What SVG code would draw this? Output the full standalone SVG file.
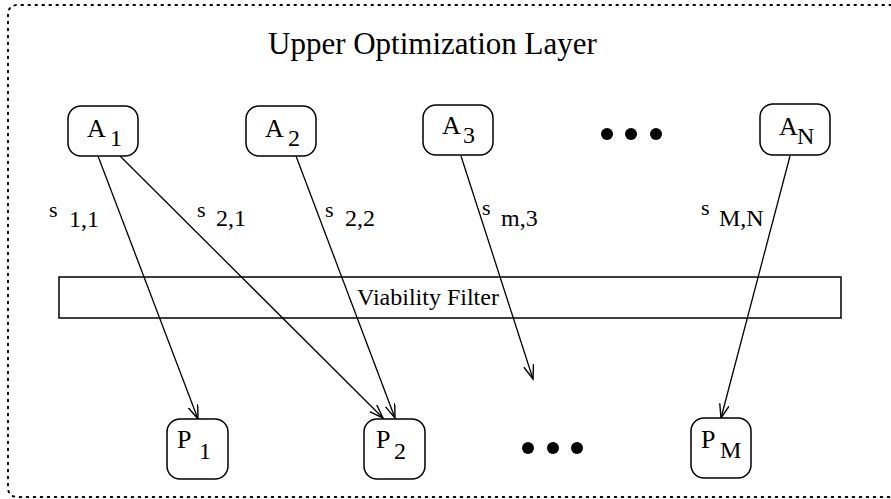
<svg xmlns="http://www.w3.org/2000/svg" width="891" height="499" viewBox="0 0 891 499">
<style>
  .node { fill: #fff; stroke: #000; stroke-width: 1.5; }
  .t { font-family: "Liberation Serif", "Times New Roman", serif; fill: #000; }
  .lbl { font-size: 26px; }
  .sub { font-size: 24px; }
  .s { font-size: 22px; }
  .edge { stroke: #000; stroke-width: 1.3; fill: none; marker-end: url(#arr); }
  .dot { fill: #000; }
</style>
<defs>
  <marker id="arr" markerUnits="userSpaceOnUse" markerWidth="16" markerHeight="12" refX="14" refY="5" orient="auto">
    <path d="M0,0 L14,5 L0,10" fill="none" stroke="#000" stroke-width="1.4"/>
  </marker>
</defs>
<rect width="891" height="499" fill="#fff"/>
<path d="M891,5 H18 Q8,5 8,15 V487 Q8,497 18,497 H891" fill="none" stroke="#000" stroke-width="2" stroke-dasharray="1.5 5.5" stroke-linecap="round"/>
<text class="t" x="268" y="54" font-size="31">Upper Optimization Layer</text>
<g id="filter">
  <rect x="59" y="277" width="782" height="41" fill="none" stroke="#000" stroke-width="1.5"/>
  <text class="t" x="357" y="305" font-size="24">Viability Filter</text>
</g>
<g id="connectors">
  <line class="edge" x1="98" y1="156" x2="198" y2="419"/>
  <line class="edge" x1="120" y1="156" x2="383" y2="418"/>
  <line class="edge" x1="296" y1="156" x2="395" y2="418"/>
  <line class="edge" x1="461" y1="156" x2="533" y2="379"/>
  <line class="edge" x1="790" y1="156" x2="721" y2="418"/>
  <text class="t s" x="49" y="217">s</text><text class="t sub" x="69" y="227">1,1</text>
  <text class="t s" x="197" y="217">s</text><text class="t sub" x="216" y="226">2,1</text>
  <text class="t s" x="325" y="217">s</text><text class="t sub" x="345" y="226">2,2</text>
  <text class="t s" x="482" y="215">s</text><text class="t sub" x="501" y="226">m,3</text>
  <text class="t s" x="701" y="215">s</text><text class="t sub" x="719" y="226">M,N</text>
</g>
<g id="A1"><rect class="node" x="68" y="106" width="70" height="50" rx="13"/><text class="t lbl" x="87" y="137">A</text><text class="t sub" x="110" y="146">1</text></g>
<g id="A2"><rect class="node" x="246" y="106" width="70" height="50" rx="13"/><text class="t lbl" x="265" y="137">A</text><text class="t sub" x="288" y="146">2</text></g>
<g id="A3"><rect class="node" x="423" y="105" width="70" height="50" rx="13"/><text class="t lbl" x="442" y="134">A</text><text class="t sub" x="463" y="143">3</text></g>
<g id="AN"><rect class="node" x="760" y="104" width="70" height="51" rx="13"/><text class="t lbl" x="779" y="135">A</text><text class="t sub" x="797" y="144">N</text></g>
<g id="dots-top"><circle class="dot" cx="607" cy="134" r="6"/><circle class="dot" cx="631" cy="134" r="6"/><circle class="dot" cx="656" cy="134" r="6"/></g>
<g id="P1"><rect class="node" x="167" y="419" width="61" height="60" rx="13"/><text class="t lbl" x="177" y="448">P</text><text class="t sub" x="199" y="459">1</text></g>
<g id="P2"><rect class="node" x="364" y="419" width="61" height="60" rx="13"/><text class="t lbl" x="376" y="448">P</text><text class="t sub" x="394" y="459">2</text></g>
<g id="PM"><rect class="node" x="691" y="418" width="60" height="60" rx="13"/><text class="t lbl" x="701" y="448">P</text><text class="t sub" x="720" y="458">M</text></g>
<g id="dots-bottom"><circle class="dot" cx="528" cy="448" r="6"/><circle class="dot" cx="553" cy="448" r="6"/><circle class="dot" cx="577" cy="448" r="6"/></g>
</svg>
